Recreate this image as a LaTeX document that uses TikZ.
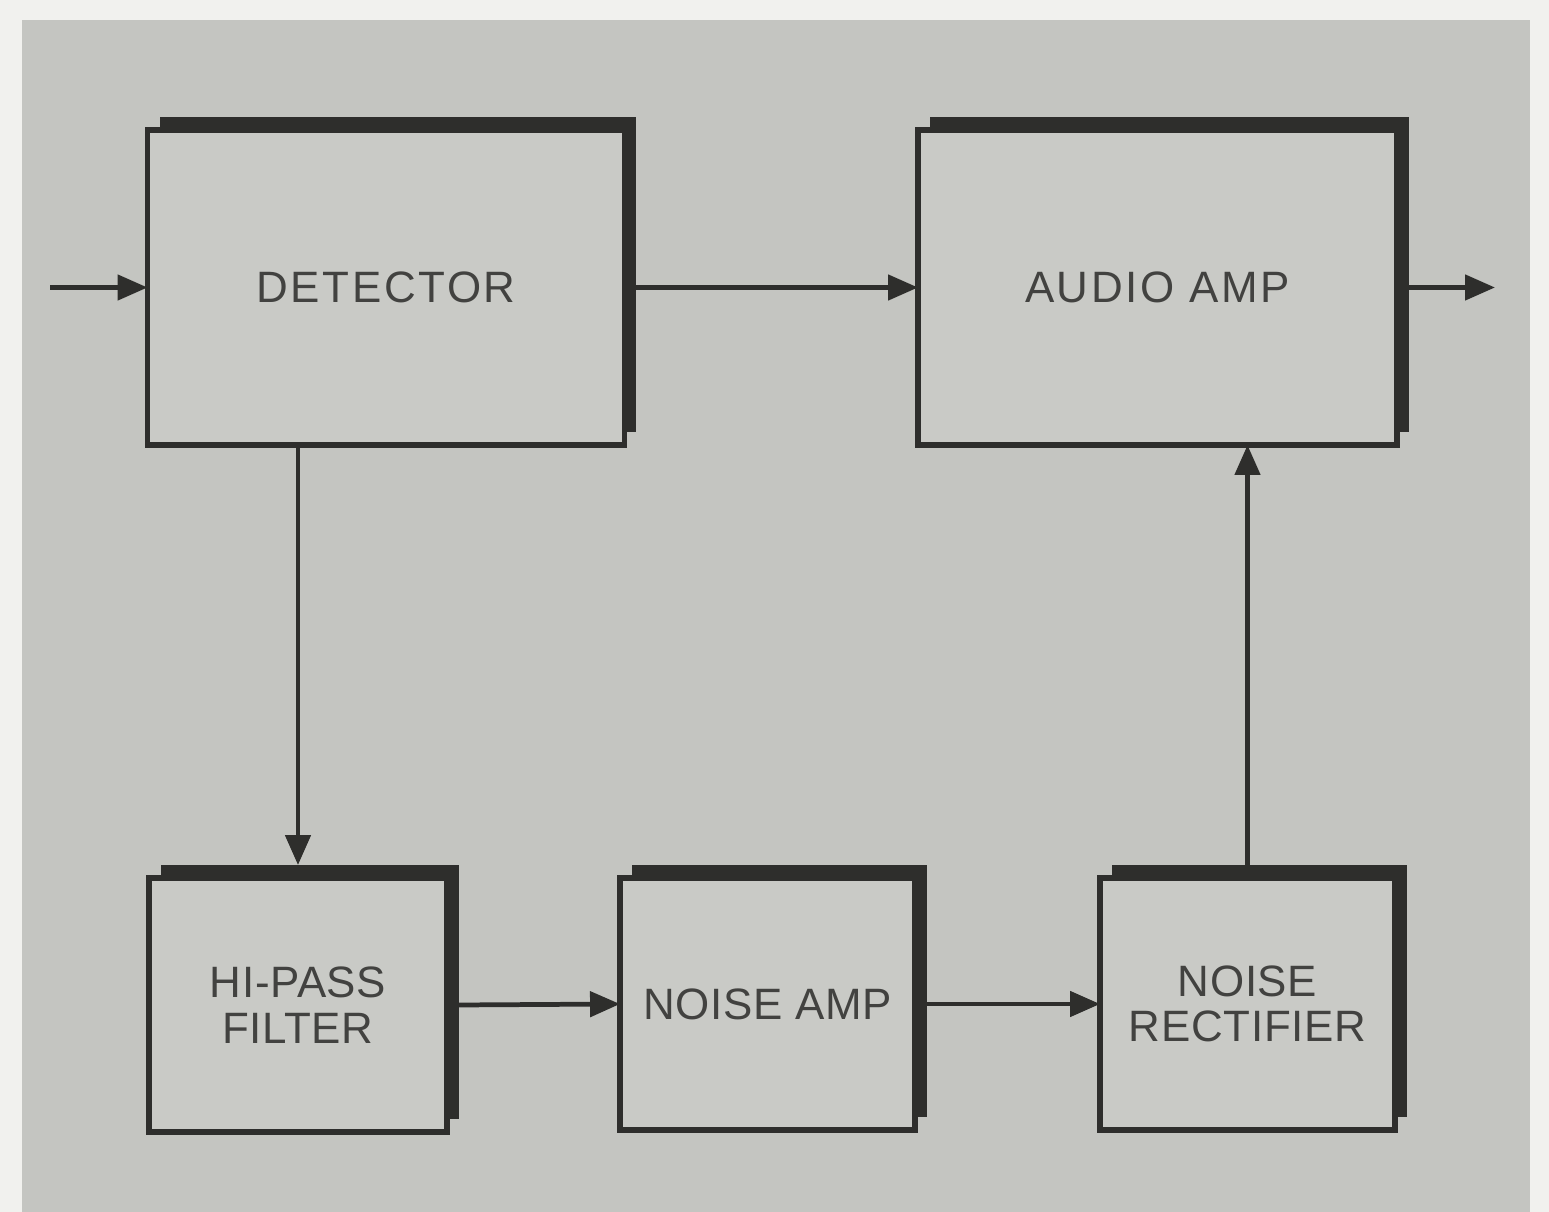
\documentclass[tikz,border=0pt]{standalone}
\usepackage{fontspec}
\setmainfont[LetterSpace=6]{Liberation Sans}
\newfontfamily\tightsans[LetterSpace=1.5]{Liberation Sans}
\usetikzlibrary{arrows.meta,shadows,calc}
\definecolor{pagebg}{HTML}{F1F1EE}
\definecolor{panel}{HTML}{C4C5C1}
\definecolor{boxfill}{HTML}{C9CAC6}
\definecolor{ink}{HTML}{2E2E2C}
\definecolor{txt}{HTML}{424240}
\begin{document}
\begin{tikzpicture}[x=0.02cm,y=-0.02cm,
  blk/.style={draw=ink, line width=3.3pt, fill=boxfill, inner sep=0pt, outer sep=0pt,
    align=center, text=txt, font=\fontsize{25}{26}\selectfont,
    general shadow={fill=ink, shadow xshift=0.24cm, shadow yshift=0.26cm}},
  lowblk/.style={blk, font=\tightsans\fontsize{25}{26}\selectfont},
  conn/.style={draw=ink, line width=2.7pt, -{Triangle[length=0.6cm,width=0.5cm]}}]
\useasboundingbox (0,0) rectangle (1549,1212);
\fill[pagebg] (0,0) rectangle (1549,1212);
\fill[panel] (22,20) rectangle (1530,1212);
\node[blk, minimum width=9.54cm, minimum height=6.3cm] (det) at (386,287.5) {DETECTOR};
\node[blk, minimum width=9.58cm, minimum height=6.3cm] (aa) at (1157.5,287.5) {AUDIO AMP};
\node[lowblk, minimum width=5.96cm, minimum height=5.08cm] (hp) at (298,1005) {HI-PASS\\FILTER};
\node[lowblk, minimum width=5.9cm, minimum height=5.04cm] (na) at (767.5,1004) {NOISE AMP};
\node[lowblk, minimum width=5.9cm, minimum height=5.04cm] (nr) at (1247.5,1004) {NOISE\\RECTIFIER};
\coordinate (in) at (50,287.5);
\coordinate (out) at (1495,287.5);
\draw[conn] (in) -- (det.west);
\draw[conn] ([xshift=0.24cm]det.east) -- (aa.west);
\draw[conn] ([xshift=0.24cm]aa.east) -- (out);
\draw[conn] (hp.north |- det.south) -- ([yshift=0.26cm]hp.north);
\draw[conn] ([xshift=0.24cm]hp.east) -- (na.west);
\draw[conn] ([xshift=0.24cm]na.east) -- (nr.west);
\draw[conn] ([yshift=0.26cm]nr.north) -- (nr.north |- aa.south);
\end{tikzpicture}
\end{document}
